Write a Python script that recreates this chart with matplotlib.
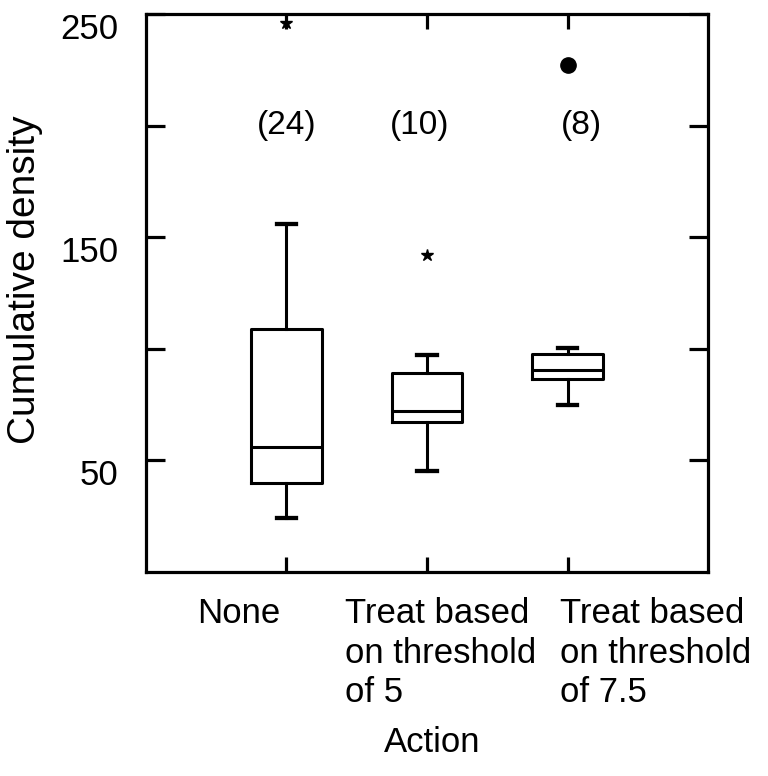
import matplotlib
matplotlib.use("Agg")
import matplotlib.pyplot as plt
import matplotlib.transforms as mtransforms

plt.rcParams['font.family'] = ['Liberation Sans', 'DejaVu Sans']

# data
groups = ["None", "Treat based\non threshold\nof 5", "Treat based\non threshold\nof 7.5"]
counts = ["(24)", "(10)", "(8)"]
whislo = [24, 45, 75]
q1 = [40, 67, 86.5]
med = [56, 72, 90.5]
q3 = [109, 89, 97.7]
whishi = [156, 97.3, 100.3]
outliers = [[246], [142], [227]]
outlier_marker = ["*", "*", "o"]

positions = [1, 2, 3]

fig = plt.figure(figsize=(7.68, 7.76), dpi=100)
ax = fig.add_axes([0.190, 0.263, 0.732, 0.719])

stats = []
for i in range(3):
    stats.append(dict(whislo=whislo[i], q1=q1[i], med=med[i], q3=q3[i],
                      whishi=whishi[i], fliers=outliers[i], label=groups[i]))

lw = 2.2
bp = ax.bxp(stats, positions=positions, widths=0.5, capwidths=0.14,
            boxprops=dict(color='black', linewidth=lw),
            whiskerprops=dict(color='black', linewidth=lw),
            capprops=dict(color='black', linewidth=lw * 1.4),
            medianprops=dict(color='black', linewidth=lw))
for fl, m in zip(bp['fliers'], outlier_marker):
    fl.set_marker(m)
    fl.set_markerfacecolor('black')
    fl.set_markeredgecolor('black')
    fl.set_markersize(9 if m == '*' else 11)

# sample sizes
count_x = [1.0, 1.95, 3.1]
for x, c in zip(count_x, counts):
    ax.text(x, 200, c, ha='center', va='center', fontsize=24)

ax.set_xlim(0, 4)
ax.set_ylim(0, 250)
ax.set_yticks([50, 100, 150, 200, 250])
ax.set_yticklabels(["50", "", "150", "", "250"])
ax.set_xticks(positions)
ax.set_xticklabels([])

ax.tick_params(axis='y', direction='in', length=14, width=2.3, left=True, right=True,
               labelsize=25, pad=20)
ax.tick_params(axis='x', direction='in', length=11, width=2.3, top=True, bottom=True)
for s in ax.spines.values():
    s.set_linewidth(2.3)

# y tick labels sit a little below their ticks in the original
shift = mtransforms.ScaledTranslation(0, -0.12, fig.dpi_scale_trans)
for lab in ax.get_yticklabels():
    lab.set_transform(lab.get_transform() + shift)

# multi-line category labels under the axis
label_x = [0.363, 1.416, 2.947]
for x, g in zip(label_x, groups):
    ax.text(x, -0.045, g, transform=ax.get_xaxis_transform(), ha='left', va='top',
            fontsize=25, linespacing=1.25)

ax.set_ylabel("Cumulative density", fontsize=28)
ax.yaxis.set_label_coords(-0.183, 0.523)
fig.text(0.5625, 0.0438, "Action", ha='center', va='center', fontsize=25)

fig.savefig("out.png", dpi=100)
